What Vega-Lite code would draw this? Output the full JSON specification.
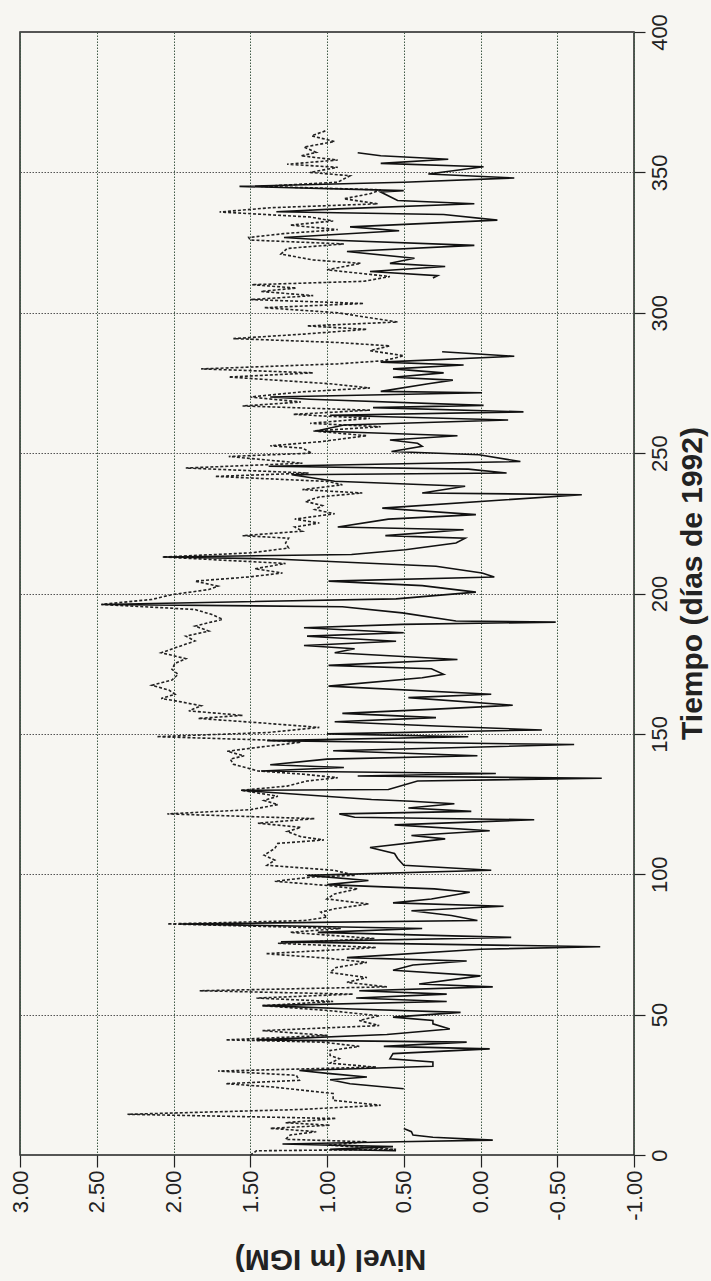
{
  "$schema": "https://vega.github.io/schema/vega-lite/v6.json",
  "autosize": "none",
  "padding": {"left": 20, "top": 32, "right": 77, "bottom": 126},
  "width": 614,
  "height": 1123,
  "background": "#f7f6f2",
  "config": {"view": {"stroke": "#222", "strokeWidth": 1.5}, "font": "Liberation Sans"},
  "datasets": {
    "obs": [
      {"tramo":"a","dia":1.5,"nivel":0.55},{"tramo":"a","dia":2.0,"nivel":0.98},{"tramo":"a","dia":3.0,"nivel":0.57},{"tramo":"a","dia":3.9,"nivel":1.29},{"tramo":"a","dia":4.7,"nivel":0.53},{"tramo":"a","dia":5.3,"nivel":-0.08},{"tramo":"a","dia":6.3,"nivel":0.31},{"tramo":"a","dia":7.1,"nivel":0.44},{"tramo":"a","dia":8.3,"nivel":0.45},{"tramo":"a","dia":9.4,"nivel":0.5},
      {"tramo":"b","dia":23.6,"nivel":0.5},{"tramo":"b","dia":25.4,"nivel":0.85},{"tramo":"b","dia":26.8,"nivel":0.98},{"tramo":"b","dia":27.8,"nivel":0.74},{"tramo":"b","dia":29.0,"nivel":0.98},{"tramo":"b","dia":30.1,"nivel":1.18},{"tramo":"b","dia":31.6,"nivel":0.31},{"tramo":"b","dia":33.1,"nivel":0.31},{"tramo":"b","dia":34.3,"nivel":0.59},{"tramo":"b","dia":36.1,"nivel":0.57},{"tramo":"b","dia":37.8,"nivel":-0.06},{"tramo":"b","dia":38.7,"nivel":0.63},{"tramo":"b","dia":40.2,"nivel":0.09},{"tramo":"b","dia":41.0,"nivel":1.46},{"tramo":"b","dia":42.9,"nivel":0.61},{"tramo":"b","dia":44.9,"nivel":0.2},{"tramo":"b","dia":46.7,"nivel":0.31},{"tramo":"b","dia":47.9,"nivel":0.31},{"tramo":"b","dia":49.1,"nivel":0.57},{"tramo":"b","dia":50.8,"nivel":0.13},{"tramo":"b","dia":52.0,"nivel":0.83},{"tramo":"b","dia":53.2,"nivel":1.42},{"tramo":"b","dia":54.7,"nivel":0.22},{"tramo":"b","dia":55.9,"nivel":0.81},{"tramo":"b","dia":57.3,"nivel":0.22},{"tramo":"b","dia":58.5,"nivel":0.79},{"tramo":"b","dia":59.9,"nivel":-0.08},{"tramo":"b","dia":60.9,"nivel":0.4},{"tramo":"b","dia":63.8,"nivel":0.0},{"tramo":"b","dia":65.8,"nivel":0.57},{"tramo":"b","dia":67.7,"nivel":0.44},{"tramo":"b","dia":69.1,"nivel":0.09},{"tramo":"b","dia":70.3,"nivel":0.87},{"tramo":"b","dia":73.3,"nivel":0.0},{"tramo":"b","dia":74.2,"nivel":-0.78},{"tramo":"b","dia":75.9,"nivel":1.3},{"tramo":"b","dia":77.5,"nivel":-0.2},{"tramo":"b","dia":79.3,"nivel":1.06},{"tramo":"b","dia":80.7,"nivel":0.38},{"tramo":"b","dia":82.3,"nivel":1.96},{"tramo":"b","dia":83.5,"nivel":0.02},{"tramo":"b","dia":85.3,"nivel":0.19},{"tramo":"b","dia":87.0,"nivel":0.45},{"tramo":"b","dia":88.6,"nivel":-0.15},{"tramo":"b","dia":89.8,"nivel":0.57},{"tramo":"b","dia":91.2,"nivel":0.32},{"tramo":"b","dia":93.6,"nivel":0.07},{"tramo":"b","dia":94.8,"nivel":0.3},{"tramo":"b","dia":96.3,"nivel":1.0},{"tramo":"b","dia":97.8,"nivel":0.73},{"tramo":"b","dia":99.6,"nivel":1.13},{"tramo":"b","dia":101.4,"nivel":-0.07},{"tramo":"b","dia":103.2,"nivel":0.5},{"tramo":"b","dia":105.6,"nivel":0.54},{"tramo":"b","dia":107.4,"nivel":0.56},{"tramo":"b","dia":109.5,"nivel":0.72},{"tramo":"b","dia":112.6,"nivel":0.23},{"tramo":"b","dia":113.8,"nivel":0.45},{"tramo":"b","dia":115.5,"nivel":-0.06},{"tramo":"b","dia":117.6,"nivel":0.56},{"tramo":"b","dia":119.4,"nivel":-0.35},{"tramo":"b","dia":120.3,"nivel":0.82},{"tramo":"b","dia":121.5,"nivel":0.92},{"tramo":"b","dia":122.4,"nivel":0.06},{"tramo":"b","dia":123.6,"nivel":0.47},{"tramo":"b","dia":125.1,"nivel":0.17},{"tramo":"b","dia":126.0,"nivel":0.45},{"tramo":"b","dia":126.6,"nivel":0.71},{"tramo":"b","dia":129.9,"nivel":1.56},{"tramo":"b","dia":130.2,"nivel":0.6},{"tramo":"b","dia":133.2,"nivel":0.41},{"tramo":"b","dia":134.2,"nivel":-0.79},{"tramo":"b","dia":135.0,"nivel":0.8},{"tramo":"b","dia":135.9,"nivel":-0.1},{"tramo":"b","dia":136.8,"nivel":1.43},{"tramo":"b","dia":138.0,"nivel":0.89},{"tramo":"b","dia":139.0,"nivel":1.37},{"tramo":"b","dia":141.0,"nivel":1.0},{"tramo":"b","dia":142.2,"nivel":0.02},{"tramo":"b","dia":144.0,"nivel":0.96},{"tramo":"b","dia":146.2,"nivel":-0.61},{"tramo":"b","dia":147.6,"nivel":1.39},{"tramo":"b","dia":149.0,"nivel":0.08},{"tramo":"b","dia":150.0,"nivel":1.0},{"tramo":"b","dia":151.4,"nivel":-0.4},{"tramo":"b","dia":152.8,"nivel":0.29},{"tramo":"b","dia":154.3,"nivel":0.95},{"tramo":"b","dia":155.8,"nivel":0.29},{"tramo":"b","dia":157.3,"nivel":0.9},{"tramo":"b","dia":158.8,"nivel":0.29},{"tramo":"b","dia":160.2,"nivel":-0.21},{"tramo":"b","dia":162.9,"nivel":0.47},{"tramo":"b","dia":164.1,"nivel":-0.07},{"tramo":"b","dia":167.0,"nivel":0.99},{"tramo":"b","dia":170.0,"nivel":0.38},{"tramo":"b","dia":171.2,"nivel":0.24},{"tramo":"b","dia":173.2,"nivel":0.32},{"tramo":"b","dia":174.4,"nivel":0.99},{"tramo":"b","dia":176.5,"nivel":0.15},{"tramo":"b","dia":178.9,"nivel":0.95},{"tramo":"b","dia":180.3,"nivel":0.82},{"tramo":"b","dia":181.5,"nivel":1.15},{"tramo":"b","dia":183.0,"nivel":0.55},{"tramo":"b","dia":184.8,"nivel":1.13},{"tramo":"b","dia":186.0,"nivel":0.5},{"tramo":"b","dia":187.8,"nivel":1.15},{"tramo":"b","dia":189.0,"nivel":0.51},{"tramo":"b","dia":189.8,"nivel":-0.49},{"tramo":"b","dia":190.2,"nivel":0.16},{"tramo":"b","dia":193.1,"nivel":0.51},{"tramo":"b","dia":195.3,"nivel":0.9},{"tramo":"b","dia":196.1,"nivel":2.47},{"tramo":"b","dia":198.1,"nivel":0.55},{"tramo":"b","dia":200.5,"nivel":0.03},{"tramo":"b","dia":202.8,"nivel":0.38},{"tramo":"b","dia":204.4,"nivel":0.99},{"tramo":"b","dia":205.9,"nivel":-0.09},{"tramo":"b","dia":207.3,"nivel":-0.01},{"tramo":"b","dia":209.7,"nivel":0.29},{"tramo":"b","dia":212.3,"nivel":1.34},{"tramo":"b","dia":213.0,"nivel":2.07},{"tramo":"b","dia":213.9,"nivel":0.84},{"tramo":"b","dia":215.6,"nivel":0.49},{"tramo":"b","dia":218.0,"nivel":0.16},{"tramo":"b","dia":219.7,"nivel":0.1},{"tramo":"b","dia":220.6,"nivel":0.62},{"tramo":"b","dia":222.7,"nivel":0.11},{"tramo":"b","dia":223.7,"nivel":0.93},{"tramo":"b","dia":226.5,"nivel":0.6},{"tramo":"b","dia":228.1,"nivel":0.03},{"tramo":"b","dia":230.4,"nivel":0.64},{"tramo":"b","dia":235.2,"nivel":-0.66},{"tramo":"b","dia":235.8,"nivel":0.38},{"tramo":"b","dia":238.2,"nivel":0.1},{"tramo":"b","dia":240.0,"nivel":0.95},{"tramo":"b","dia":242.3,"nivel":1.23},{"tramo":"b","dia":242.9,"nivel":-0.17},{"tramo":"b","dia":244.3,"nivel":0.08},{"tramo":"b","dia":245.3,"nivel":1.38},{"tramo":"b","dia":247.0,"nivel":-0.26},{"tramo":"b","dia":249.4,"nivel":0.01},{"tramo":"b","dia":250.6,"nivel":0.58},{"tramo":"b","dia":252.4,"nivel":0.38},{"tramo":"b","dia":253.5,"nivel":0.41},{"tramo":"b","dia":254.7,"nivel":0.59},{"tramo":"b","dia":256.2,"nivel":0.15},{"tramo":"b","dia":257.9,"nivel":1.07},{"tramo":"b","dia":260.0,"nivel":0.89},{"tramo":"b","dia":261.8,"nivel":-0.18},{"tramo":"b","dia":263.5,"nivel":0.98},{"tramo":"b","dia":264.7,"nivel":-0.28},{"tramo":"b","dia":266.2,"nivel":0.7},{"tramo":"b","dia":267.0,"nivel":-0.02},{"tramo":"b","dia":269.2,"nivel":1.11},{"tramo":"b","dia":270.0,"nivel":1.37},{"tramo":"b","dia":271.5,"nivel":-0.01},{"tramo":"b","dia":272.0,"nivel":0.65},{"tramo":"b","dia":274.7,"nivel":0.34},{"tramo":"b","dia":276.0,"nivel":0.18},{"tramo":"b","dia":277.0,"nivel":0.57},{"tramo":"b","dia":278.6,"nivel":0.24},{"tramo":"b","dia":280.0,"nivel":0.57},{"tramo":"b","dia":281.4,"nivel":0.11},{"tramo":"b","dia":282.4,"nivel":0.65},{"tramo":"b","dia":284.5,"nivel":-0.22},{"tramo":"b","dia":286.1,"nivel":0.25},
      {"tramo":"c","dia":312.4,"nivel":0.31},{"tramo":"c","dia":313.2,"nivel":0.28},{"tramo":"c","dia":314.7,"nivel":0.72},{"tramo":"c","dia":316.5,"nivel":0.23},{"tramo":"c","dia":317.6,"nivel":0.59},{"tramo":"c","dia":319.4,"nivel":0.43},{"tramo":"c","dia":321.8,"nivel":0.87},{"tramo":"c","dia":324.0,"nivel":0.04},{"tramo":"c","dia":326.0,"nivel":1.04},{"tramo":"c","dia":326.8,"nivel":1.28},{"tramo":"c","dia":329.2,"nivel":0.53},{"tramo":"c","dia":330.6,"nivel":0.85},{"tramo":"c","dia":333.0,"nivel":-0.11},{"tramo":"c","dia":335.0,"nivel":0.24},{"tramo":"c","dia":336.0,"nivel":1.33},{"tramo":"c","dia":337.0,"nivel":0.93},{"tramo":"c","dia":338.8,"nivel":0.04},{"tramo":"c","dia":340.0,"nivel":0.54},{"tramo":"c","dia":343.0,"nivel":0.65},{"tramo":"c","dia":343.5,"nivel":0.5},{"tramo":"c","dia":345.0,"nivel":1.57},{"tramo":"c","dia":346.5,"nivel":0.5},{"tramo":"c","dia":348.0,"nivel":-0.22},{"tramo":"c","dia":349.4,"nivel":0.34},{"tramo":"c","dia":352.0,"nivel":-0.02},{"tramo":"c","dia":353.2,"nivel":0.65},{"tramo":"c","dia":354.7,"nivel":0.21},{"tramo":"c","dia":355.9,"nivel":0.65},{"tramo":"c","dia":357.0,"nivel":0.8}
    ],
    "sim": [
      {"dia":0.0,"nivel":1.5},{"dia":0.6,"nivel":1.48},{"dia":1.5,"nivel":1.46},{"dia":2.0,"nivel":0.55},{"dia":3.5,"nivel":0.99},{"dia":4.7,"nivel":0.74},{"dia":5.6,"nivel":1.27},{"dia":7.1,"nivel":1.24},{"dia":8.3,"nivel":1.07},{"dia":9.5,"nivel":1.37},{"dia":10.6,"nivel":0.98},{"dia":11.5,"nivel":1.27},{"dia":13.0,"nivel":0.94},{"dia":14.5,"nivel":2.3},{"dia":16.2,"nivel":1.18},{"dia":17.7,"nivel":0.65},{"dia":19.5,"nivel":0.96},{"dia":21.9,"nivel":0.96},{"dia":24.2,"nivel":1.35},{"dia":25.4,"nivel":1.66},{"dia":26.6,"nivel":1.18},{"dia":28.4,"nivel":1.2},{"dia":29.9,"nivel":1.71},{"dia":31.3,"nivel":0.68},{"dia":32.7,"nivel":0.98},{"dia":34.3,"nivel":0.92},{"dia":35.5,"nivel":0.98},{"dia":37.2,"nivel":0.98},{"dia":38.7,"nivel":0.79},{"dia":40.2,"nivel":1.03},{"dia":41.0,"nivel":1.66},{"dia":42.6,"nivel":1.0},{"dia":44.3,"nivel":1.42},{"dia":46.1,"nivel":0.66},{"dia":47.9,"nivel":0.79},{"dia":49.6,"nivel":0.66},{"dia":51.4,"nivel":0.98},{"dia":53.2,"nivel":1.42},{"dia":54.7,"nivel":0.96},{"dia":55.9,"nivel":1.46},{"dia":57.3,"nivel":0.83},{"dia":58.5,"nivel":1.83},{"dia":59.9,"nivel":0.61},{"dia":61.5,"nivel":0.87},{"dia":63.2,"nivel":0.74},{"dia":65.0,"nivel":0.98},{"dia":66.8,"nivel":0.94},{"dia":68.6,"nivel":0.74},{"dia":70.1,"nivel":1.0},{"dia":71.7,"nivel":1.4},{"dia":73.9,"nivel":0.68},{"dia":75.4,"nivel":1.32},{"dia":77.1,"nivel":0.69},{"dia":79.3,"nivel":1.24},{"dia":80.7,"nivel":0.91},{"dia":82.3,"nivel":2.04},{"dia":83.5,"nivel":1.15},{"dia":84.7,"nivel":1.0},{"dia":86.5,"nivel":1.04},{"dia":87.7,"nivel":0.95},{"dia":89.4,"nivel":0.73},{"dia":91.2,"nivel":1.0},{"dia":93.0,"nivel":0.95},{"dia":94.8,"nivel":0.8},{"dia":96.0,"nivel":1.0},{"dia":97.5,"nivel":1.34},{"dia":99.0,"nivel":1.1},{"dia":99.6,"nivel":0.82},{"dia":101.4,"nivel":0.95},{"dia":103.2,"nivel":1.39},{"dia":105.0,"nivel":1.34},{"dia":106.8,"nivel":1.41},{"dia":109.2,"nivel":1.34},{"dia":111.0,"nivel":1.32},{"dia":112.2,"nivel":1.02},{"dia":113.4,"nivel":1.17},{"dia":115.2,"nivel":1.26},{"dia":116.7,"nivel":1.17},{"dia":118.2,"nivel":1.45},{"dia":119.8,"nivel":1.08},{"dia":121.5,"nivel":2.04},{"dia":123.0,"nivel":1.5},{"dia":124.8,"nivel":1.32},{"dia":126.3,"nivel":1.41},{"dia":127.8,"nivel":1.32},{"dia":129.9,"nivel":1.56},{"dia":131.4,"nivel":1.26},{"dia":133.2,"nivel":1.13},{"dia":134.4,"nivel":0.93},{"dia":135.6,"nivel":1.15},{"dia":136.8,"nivel":1.45},{"dia":139.2,"nivel":1.61},{"dia":141.0,"nivel":1.63},{"dia":142.2,"nivel":1.54},{"dia":143.8,"nivel":1.65},{"dia":145.2,"nivel":1.45},{"dia":147.0,"nivel":1.17},{"dia":147.8,"nivel":1.39},{"dia":149.0,"nivel":2.11},{"dia":150.5,"nivel":1.38},{"dia":152.3,"nivel":1.05},{"dia":154.0,"nivel":1.45},{"dia":155.5,"nivel":1.84},{"dia":156.6,"nivel":1.55},{"dia":158.2,"nivel":1.9},{"dia":160.0,"nivel":1.82},{"dia":161.4,"nivel":1.95},{"dia":162.6,"nivel":2.08},{"dia":164.1,"nivel":1.99},{"dia":165.6,"nivel":2.03},{"dia":167.3,"nivel":2.14},{"dia":169.2,"nivel":2.01},{"dia":171.2,"nivel":1.97},{"dia":173.0,"nivel":2.01},{"dia":175.1,"nivel":1.99},{"dia":176.8,"nivel":1.92},{"dia":178.9,"nivel":2.08},{"dia":181.0,"nivel":1.97},{"dia":183.1,"nivel":1.86},{"dia":184.8,"nivel":1.92},{"dia":186.6,"nivel":1.77},{"dia":188.4,"nivel":1.86},{"dia":190.8,"nivel":1.68},{"dia":192.5,"nivel":1.75},{"dia":194.3,"nivel":1.86},{"dia":196.1,"nivel":2.47},{"dia":197.9,"nivel":2.14},{"dia":199.6,"nivel":2.01},{"dia":201.4,"nivel":1.77},{"dia":202.6,"nivel":1.71},{"dia":204.4,"nivel":1.86},{"dia":205.9,"nivel":1.51},{"dia":207.3,"nivel":1.29},{"dia":208.8,"nivel":1.47},{"dia":210.7,"nivel":1.27},{"dia":213.0,"nivel":2.07},{"dia":214.5,"nivel":1.49},{"dia":216.2,"nivel":1.25},{"dia":218.0,"nivel":1.27},{"dia":219.7,"nivel":1.25},{"dia":220.6,"nivel":1.55},{"dia":222.2,"nivel":1.16},{"dia":223.7,"nivel":1.21},{"dia":225.1,"nivel":1.05},{"dia":226.5,"nivel":1.21},{"dia":228.4,"nivel":0.95},{"dia":229.9,"nivel":1.08},{"dia":231.3,"nivel":1.03},{"dia":232.8,"nivel":1.14},{"dia":234.4,"nivel":1.05},{"dia":235.8,"nivel":0.77},{"dia":237.0,"nivel":1.16},{"dia":238.7,"nivel":0.9},{"dia":239.9,"nivel":0.99},{"dia":241.7,"nivel":1.73},{"dia":242.9,"nivel":1.12},{"dia":244.7,"nivel":1.92},{"dia":246.4,"nivel":1.16},{"dia":248.8,"nivel":1.64},{"dia":250.0,"nivel":1.1},{"dia":251.8,"nivel":1.16},{"dia":252.6,"nivel":1.37},{"dia":254.1,"nivel":1.04},{"dia":256.2,"nivel":0.74},{"dia":257.9,"nivel":1.09},{"dia":259.4,"nivel":0.65},{"dia":260.6,"nivel":1.11},{"dia":262.4,"nivel":0.72},{"dia":263.8,"nivel":1.22},{"dia":265.3,"nivel":0.72},{"dia":266.8,"nivel":1.55},{"dia":268.2,"nivel":1.17},{"dia":270.0,"nivel":1.5},{"dia":271.8,"nivel":1.17},{"dia":273.2,"nivel":0.72},{"dia":274.7,"nivel":0.98},{"dia":277.1,"nivel":1.64},{"dia":278.6,"nivel":1.09},{"dia":280.0,"nivel":1.82},{"dia":281.8,"nivel":0.93},{"dia":282.9,"nivel":0.63},{"dia":284.7,"nivel":0.5},{"dia":286.5,"nivel":0.72},{"dia":288.2,"nivel":0.59},{"dia":289.4,"nivel":0.93},{"dia":290.8,"nivel":1.61},{"dia":292.4,"nivel":1.15},{"dia":294.1,"nivel":0.74},{"dia":295.3,"nivel":1.13},{"dia":296.7,"nivel":0.54},{"dia":298.2,"nivel":0.72},{"dia":300.0,"nivel":0.93},{"dia":301.8,"nivel":1.41},{"dia":303.3,"nivel":0.76},{"dia":304.7,"nivel":1.5},{"dia":306.1,"nivel":1.09},{"dia":307.6,"nivel":1.43},{"dia":308.8,"nivel":1.2},{"dia":310.0,"nivel":1.49},{"dia":311.2,"nivel":0.76},{"dia":312.9,"nivel":0.59},{"dia":315.3,"nivel":1.0},{"dia":317.6,"nivel":0.78},{"dia":318.8,"nivel":1.09},{"dia":320.9,"nivel":1.3},{"dia":322.9,"nivel":1.26},{"dia":324.5,"nivel":0.89},{"dia":325.9,"nivel":1.5},{"dia":326.8,"nivel":1.51},{"dia":328.2,"nivel":1.28},{"dia":329.6,"nivel":0.93},{"dia":331.2,"nivel":1.24},{"dia":332.7,"nivel":0.96},{"dia":334.1,"nivel":1.11},{"dia":335.9,"nivel":1.7},{"dia":337.4,"nivel":1.37},{"dia":338.8,"nivel":0.67},{"dia":340.6,"nivel":0.89},{"dia":342.4,"nivel":0.72},{"dia":343.8,"nivel":0.65},{"dia":345.0,"nivel":1.43},{"dia":346.5,"nivel":0.93},{"dia":348.8,"nivel":0.85},{"dia":350.0,"nivel":1.11},{"dia":351.8,"nivel":0.93},{"dia":352.9,"nivel":1.26},{"dia":354.4,"nivel":0.93},{"dia":355.9,"nivel":1.17},{"dia":357.1,"nivel":1.07},{"dia":359.0,"nivel":1.15},{"dia":361.0,"nivel":0.95},{"dia":363.0,"nivel":1.1},{"dia":365.0,"nivel":1.0}
    ]
  },
  "encoding": {
    "x": {
      "field": "nivel", "type": "quantitative",
      "scale": {"domain": [-1, 3], "reverse": true, "nice": false, "zero": false},
      "axis": {
        "orient": "bottom", "values": [-1, -0.5, 0, 0.5, 1, 1.5, 2, 2.5, 3], "format": ".2f",
        "labelExpr": "replace(datum.label, '\u2212', '-')",
        "labelAngle": 270, "labelFontSize": 22, "labelColor": "#222", "labelPadding": 3,
        "tickSize": 12, "tickColor": "#222", "tickWidth": 1.2, "domain": false,
        "grid": true, "gridColor": "#3f5a46", "gridDash": [1.5, 1.5], "gridWidth": 1,
        "title": "Nivel (m IGM)", "titleFontSize": 30, "titleFontWeight": "bold", "titleColor": "#222",
        "titleAngle": 180, "titleAlign": "center", "titleBaseline": "middle", "titleX": 310, "titleY": 103
      }
    },
    "y": {
      "field": "dia", "type": "quantitative",
      "scale": {"domain": [0, 400], "nice": false, "zero": false},
      "axis": {
        "orient": "right", "values": [0, 50, 100, 150, 200, 250, 300, 350, 400],
        "labelAngle": 270, "labelAlign": "center", "labelBaseline": "top", "labelFontSize": 22, "labelColor": "#222", "labelPadding": 4,
        "tickSize": 11, "tickColor": "#222", "tickWidth": 1.2, "domain": false,
        "grid": true, "gridColor": "#555", "gridDash": [1.5, 1.5], "gridWidth": 1,
        "title": "Tiempo (días de 1992)", "titleFontSize": 30, "titleFontWeight": "bold", "titleColor": "#222",
        "titleAngle": 270, "titleAlign": "center", "titleBaseline": "middle", "titleX": 58, "titleY": 551
      }
    }
  },
  "layer": [
    {
      "data": {"name": "sim"},
      "mark": {"type": "line", "color": "#222", "strokeWidth": 1.6, "strokeDash": [3, 2]},
      "encoding": {"order": {"field": "dia", "type": "quantitative"}}
    },
    {
      "data": {"name": "obs"},
      "mark": {"type": "line", "color": "#111", "strokeWidth": 1.6},
      "encoding": {"order": {"field": "dia", "type": "quantitative"}, "detail": {"field": "tramo"}}
    }
  ]
}
